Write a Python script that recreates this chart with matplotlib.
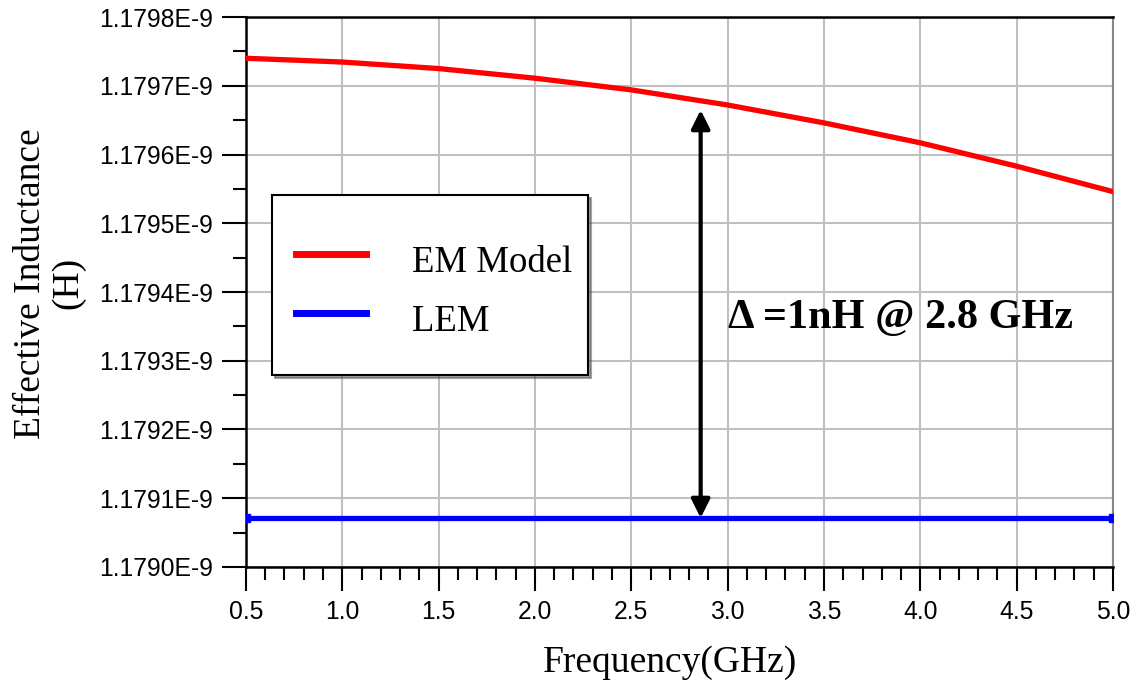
import matplotlib
matplotlib.use('Agg')
import matplotlib.pyplot as plt
from matplotlib.path import Path
from matplotlib.ticker import MultipleLocator, FuncFormatter

# frequency in GHz, inductance in H
freq = [0.5, 1.0, 1.5, 2.0, 2.5, 3.0, 3.5, 4.0, 4.5, 5.0]
em_model = [1.179740e-9, 1.1797345e-9, 1.179725e-9, 1.179711e-9, 1.179694e-9,
            1.179672e-9, 1.179646e-9, 1.179617e-9, 1.179583e-9, 1.179546e-9]
lem = [1.1790713e-9] * len(freq)

arrow_freq = 2.86
arrow_top = 1.1796647e-9
note = 'Δ =1nH @ 2.8 GHz'

serif = 'Liberation Serif'
sans = 'Liberation Sans'


def legendBox(x0, y0, width, height, mutation_size):
    # legend frame: more room above/below the entries than at the sides
    m = mutation_size
    l, r = x0, x0 + width - 0.22 * m
    b, t = y0 - 0.245 * m, y0 + height + 0.46 * m
    return Path([(l, b), (r, b), (r, t), (l, t), (l, b)], closed=True)


fig = plt.figure(figsize=(11.35, 6.94), dpi=100)
ax = fig.add_axes([0.2167, 0.183, 0.7639, 0.7925])

ax.plot(freq, em_model, color='#ff0000', linewidth=3.8, label='EM Model', zorder=3)
ax.plot(freq, lem, color='#0000ff', linewidth=3.8, label='LEM', zorder=3,
        marker='s', markersize=6, markevery=[0, len(freq) - 1])

ax.set_xlim(0.5, 5.0)
ax.set_ylim(1.1790e-9, 1.1798e-9)
ax.xaxis.set_major_locator(MultipleLocator(0.5))
ax.xaxis.set_minor_locator(MultipleLocator(0.1))
ax.yaxis.set_major_locator(MultipleLocator(0.0001e-9))
ax.yaxis.set_minor_locator(MultipleLocator(0.00005e-9))
ax.yaxis.set_major_formatter(FuncFormatter(lambda v, p: '%.4fE-9' % (v * 1e9)))
ax.xaxis.set_major_formatter(FuncFormatter(lambda v, p: '%.1f' % v))

ax.grid(True, which='major', color='#c0c0c0', linewidth=1.5, zorder=0)
ax.set_axisbelow(True)

ax.tick_params(which='major', direction='out', length=17, width=1.5, pad=7, labelsize=17.8)
ax.tick_params(which='minor', direction='out', length=9.5, width=1.5)
ax.tick_params(top=False, right=False, which='both')
for lbl in ax.get_xticklabels() + ax.get_yticklabels():
    lbl.set_fontfamily(sans)

for s in ['left', 'bottom', 'top']:
    ax.spines[s].set_color('black')
    ax.spines[s].set_linewidth(1.8)
ax.spines['right'].set_color('#888888')
ax.spines['right'].set_linewidth(1.5)

ax.set_xlabel('Frequency(GHz)', fontfamily=serif, fontsize=27)
ax.set_ylabel('Effective Inductance\n(H)', fontfamily=serif, fontsize=27, linespacing=1.08)
ax.xaxis.set_label_coords(0.4885, -0.142)
ax.yaxis.set_label_coords(-0.1857, 0.516)

ax.annotate('', xy=(arrow_freq, arrow_top), xytext=(arrow_freq, lem[0]),
            arrowprops=dict(arrowstyle='<|-|>', color='black', lw=3,
                            mutation_scale=28, shrinkA=0, shrinkB=0), zorder=4)
ax.text(3.0, 1.1793622e-9, note, fontfamily=serif, fontweight='bold', fontsize=30.4,
        ha='left', va='center', zorder=5)

leg = ax.legend(loc='upper left', bbox_to_anchor=(0.03, 0.6455),
                prop={'family': serif, 'size': 26.5}, frameon=True, fancybox=False,
                shadow=True, edgecolor='black', framealpha=1, handlelength=1.9,
                handletextpad=1.25, handleheight=1.6, labelspacing=0.32,
                borderpad=0.65, borderaxespad=0)
leg.get_frame().set_linewidth(1.5)
leg.get_frame().set_boxstyle(legendBox)
for line in leg.get_lines():
    line.set_linewidth(5)
    line.set_marker('None')

fig.savefig('out.png', dpi=100)
